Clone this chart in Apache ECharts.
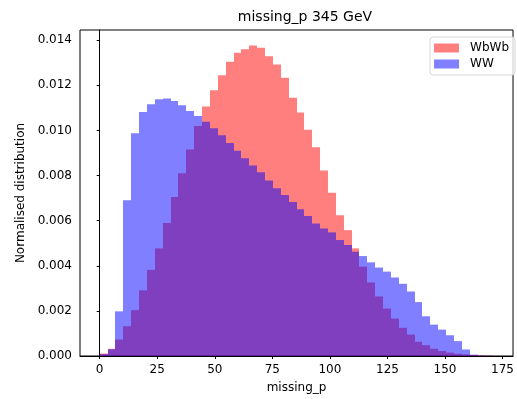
<!DOCTYPE html>
<html>
<head>
<meta charset="utf-8">
<script src="https://cdn.jsdelivr.net/npm/echarts@6/dist/echarts.min.js"></script>
<style>
html,body{margin:0;padding:0;background:#fff;}
#chart{width:517px;height:399px;}
</style>
</head>
<body>
<div id="chart"></div>
<script>
// Histogram bin edges (shared by both samples)
const binEdges = [0, 3.42, 6.84, 10.26, 13.68, 17.1, 20.52, 23.94, 27.36, 30.78,
  34.2, 37.62, 41.04, 44.46, 47.88, 51.3, 54.72, 58.14, 61.56, 64.98,
  68.4, 71.82, 75.24, 78.66, 82.08, 85.5, 88.92, 92.34, 95.76, 99.18,
  102.6, 106.02, 109.44, 112.86, 116.28, 119.7, 123.12, 126.54, 129.96, 133.38,
  136.8, 140.22, 143.64, 147.06, 150.48, 153.9, 157.32, 160.74, 164.16, 167.58, 171];

// Normalised distribution per bin
const wbwbValues = [0.00011, 0.00032, 0.00073, 0.00132, 0.00203, 0.00291, 0.00382, 0.00477, 0.00590, 0.00705,
  0.00810, 0.00915, 0.01020, 0.01106, 0.01178, 0.01244, 0.01304, 0.01344, 0.01360, 0.01376,
  0.01366, 0.01329, 0.01292, 0.01233, 0.01145, 0.01079, 0.01003, 0.00925, 0.00822, 0.00724,
  0.00624, 0.00558, 0.00477, 0.00396, 0.00326, 0.00264, 0.00210, 0.00166, 0.00125, 0.00095,
  0.00063, 0.00048, 0.00032, 0.00022, 0.00015, 0.00010, 0.00007, 0.00004, 0.00002, 0.00001];

const wwValues = [0.00008, 0.00030, 0.00198, 0.00690, 0.00987, 0.01082, 0.01116, 0.01138, 0.01141, 0.01130,
  0.01111, 0.01086, 0.01064, 0.01038, 0.01009, 0.00979, 0.00944, 0.00910, 0.00877, 0.00844,
  0.00815, 0.00778, 0.00744, 0.00714, 0.00683, 0.00650, 0.00621, 0.00587, 0.00565, 0.00548,
  0.00514, 0.00492, 0.00462, 0.00443, 0.00415, 0.00392, 0.00374, 0.00348, 0.00320, 0.00286,
  0.00239, 0.00176, 0.00139, 0.00117, 0.00092, 0.00066, 0.00029, 0.00006, 0.00002, 0.00001];

const seriesNames = ['WbWb', 'WW'];
const xTicks = [0, 25, 50, 75, 100, 125, 150, 175];
const yTicks = [0, 0.002, 0.004, 0.006, 0.008, 0.010, 0.012, 0.014];

const FONT = 'DejaVu Sans';

function toBins(values) {
  return values.map((v, i) => [binEdges[i], binEdges[i + 1], v]);
}

function renderBin(params, api) {
  const x0 = api.value(0), x1 = api.value(1), y = api.value(2);
  const p0 = api.coord([x0, 0]);
  const p1 = api.coord([x1, y]);
  const left = Math.round(p0[0]);
  const right = Math.round(p1[0]);
  return {
    type: 'rect',
    shape: { x: left, y: p1[1], width: right - left, height: p0[1] - p1[1] },
    style: api.style()
  };
}

const chart = echarts.init(document.getElementById('chart'), null, { renderer: 'canvas' });
chart.setOption({
  animation: false,
  backgroundColor: '#fff',
  title: {
    text: 'missing_p 345 GeV',
    left: 300, top: 5,
    textAlign: 'center',
    textStyle: { fontFamily: FONT, fontSize: 14, fontWeight: 'normal', color: '#000' }
  },
  legend: {
    orient: 'vertical',
    right: 2, top: 37,
    padding: [5, 6, 5, 4],
    itemWidth: 25, itemHeight: 9, itemGap: 4,
    borderColor: '#d6d6d6', borderWidth: 1, borderRadius: 3,
    backgroundColor: 'rgba(255,255,255,0.8)',
    icon: 'rect',
    textStyle: { fontFamily: FONT, fontSize: 12, color: '#000', padding: [0, 0, 0, 6] },
    data: [
      { name: seriesNames[0], itemStyle: { color: 'rgba(255,0,0,0.5)' } },
      { name: seriesNames[1], itemStyle: { color: 'rgba(0,0,255,0.5)' } }
    ]
  },
  grid: {
    left: 80, top: 30, width: 438.5, height: 328.3,
    show: true, borderColor: '#000', borderWidth: 1, backgroundColor: 'transparent'
  },
  xAxis: {
    type: 'value',
    min: -8.55, max: 179.55, interval: 25,
    name: 'missing_p', nameLocation: 'middle', nameGap: 26,
    nameTextStyle: { fontFamily: FONT, fontSize: 12, color: '#000' },
    axisLine: { show: true, lineStyle: { color: '#000', width: 1 } },
    axisTick: { show: true, length: 3, lineStyle: { color: '#000' }, customValues: xTicks },
    axisLabel: { fontFamily: FONT, fontSize: 12, color: '#000', margin: 8,
      customValues: xTicks, showMinLabel: true, showMaxLabel: true },
    splitLine: { show: false }
  },
  yAxis: {
    type: 'value',
    min: 0, max: 0.01445,
    name: 'Normalised distribution', nameLocation: 'middle', nameGap: 50,
    nameTextStyle: { fontFamily: FONT, fontSize: 12, color: '#000' },
    axisLine: { show: true, lineStyle: { color: '#000', width: 1 } },
    axisTick: { show: true, length: 3, lineStyle: { color: '#000' }, customValues: yTicks },
    axisLabel: { fontFamily: FONT, fontSize: 12, color: '#000', margin: 8,
      customValues: yTicks, formatter: v => v.toFixed(3) },
    splitLine: { show: false }
  },
  series: [
    {
      name: seriesNames[0], type: 'custom', renderItem: renderBin,
      itemStyle: { color: 'rgba(255,0,0,0.5)' },
      encode: { x: [0, 1], y: 2 },
      data: toBins(wbwbValues)
    },
    {
      name: seriesNames[1], type: 'custom', renderItem: renderBin,
      itemStyle: { color: 'rgba(0,0,255,0.5)' },
      encode: { x: [0, 1], y: 2 },
      data: toBins(wwValues)
    }
  ]
});
</script>
</body>
</html>
